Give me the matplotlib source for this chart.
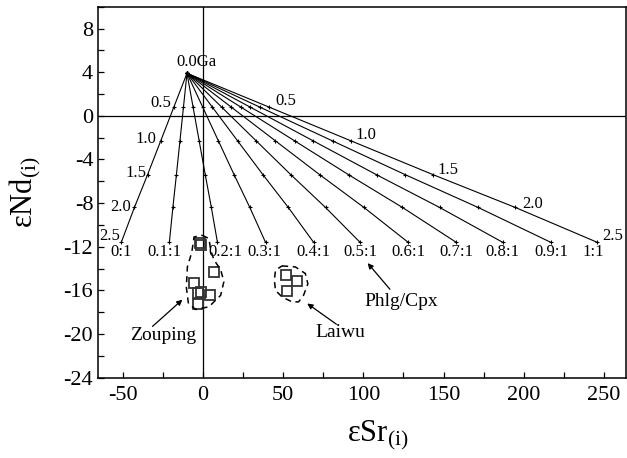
import matplotlib
matplotlib.use("Agg")
import matplotlib.pyplot as plt
from matplotlib.ticker import MultipleLocator

# === CONFIG ===
OUT_FILE = "out.png"
plt.rcParams["font.family"] = ["Liberation Serif", "DejaVu Serif"]
plt.rcParams["mathtext.fontset"] = "custom"
plt.rcParams["mathtext.rm"] = "Liberation Serif"
plt.rcParams["mathtext.it"] = "Liberation Serif:italic"
plt.rcParams["axes.unicode_minus"] = False

# ------------------------------
# Data: Phlg/Cpx mixing lines (eSr vs eNd at 0.0 ... 2.5 Ga)
# ------------------------------
ratios = ["0:1", "0.1:1", "0.2:1", "0.3:1", "0.4:1", "0.5:1",
          "0.6:1", "0.7:1", "0.8:1", "0.9:1", "1:1"]
ages = ["0.0Ga", "0.5", "1.0", "1.5", "2.0", "2.5"]
nd_line = [3.9, 0.8, -2.3, -5.4, -8.4, -11.6]
sr_lines = [
    [-10, -18.2, -26.4, -34.6, -42.8, -51.0],
    [-10, -12.2, -14.4, -16.6, -18.8, -21.0],
    [-10, -6.2, -2.4, 1.4, 5.2, 9.0],
    [-10, -0.2, 9.6, 19.4, 29.2, 39.0],
    [-10, 5.8, 21.6, 37.4, 53.2, 69.0],
    [-10, 11.6, 33.2, 54.8, 76.4, 98.0],
    [-10, 17.6, 45.2, 72.8, 100.4, 128.0],
    [-10, 23.6, 57.2, 90.8, 124.4, 158.0],
    [-10, 29.4, 68.8, 108.2, 147.6, 187.0],
    [-10, 35.4, 80.8, 126.2, 171.6, 217.0],
    [-10, 41.2, 92.4, 143.6, 194.8, 246.0],
]

# samples
zouping_sr = [-1.6, -1.0, 6.8, -5.6, -1.1, 4.3, -3.1, -3.1]
zouping_nd = [-11.7, -11.8, -14.3, -15.3, -16.15, -16.4, -16.2, -17.2]
laiwu_sr = [52.0, 58.6, 52.4]
laiwu_nd = [-14.6, -15.15, -16.1]

# dashed field outlines
zouping_field_sr = [-0.4, 3.7, 4.8, 6.8, 11.0, 13.0, 11.0, 3.7, -4.5, -9.1, -10.4, -9.75, -7.0, -5.6, -0.4]
zouping_field_nd = [-10.95, -11.25, -12.3, -13.2, -14.1, -15.2, -16.45, -17.5, -17.75, -17.2, -15.7, -13.85, -12.5, -11.1, -10.95]
laiwu_field_sr = [49.3, 57.6, 63.8, 65.4, 62.7, 59.6, 55.5, 49.3, 45.2, 44.5, 45.2, 49.3]
laiwu_field_nd = [-13.75, -13.85, -14.45, -15.4, -16.45, -17.05, -17.05, -16.6, -16.0, -15.05, -14.15, -13.75]

# ------------------------------
# Plot
# ------------------------------
fig = plt.figure(figsize=(6.27, 4.58), dpi=100)
ax = fig.add_axes([98 / 627, 80.3 / 458, 527.5 / 627, 371 / 458])

ax.axhline(0, color="black", lw=0.9)
ax.axvline(0, color="black", lw=0.9)

for sr in sr_lines:
    ax.plot(sr, nd_line, color="black", lw=0.8, marker="+", ms=3, mew=0.8)

# ratio labels below line ends
ratio_nudge = {"0:1": 0, "0.1:1": -3, "0.2:1": 5, "0.3:1": -1, "1:1": -2.5}
for sr, lab in zip(sr_lines, ratios):
    ax.text(sr[-1] + ratio_nudge.get(lab, 0), -12.5, lab, fontsize=12,
            ha="center", va="center")

# age labels along outer lines
ax.text(-4.3, 4.9, ages[0], fontsize=12, ha="center", va="center")
left_pos = [(-26.1, 1.2), (-35.4, -2.1), (-41.6, -5.2), (-51.6, -8.4), (-58.4, -11.0)]
right_pos = [(51.6, 1.4), (101.9, -1.8), (152.8, -5.0), (205.6, -8.1), (255.3, -11.0)]
for lab, (x, y) in zip(ages[1:], left_pos):
    ax.text(x, y, lab, fontsize=12, ha="center", va="center")
for lab, (x, y) in zip(ages[1:], right_pos):
    ax.text(x, y, lab, fontsize=12, ha="center", va="center")

# samples and fields
ax.plot(zouping_sr, zouping_nd, ls="none", marker="s", ms=7, mfc="none",
        mec="#333333", mew=1.3)
ax.plot(laiwu_sr, laiwu_nd, ls="none", marker="s", ms=7, mfc="none",
        mec="#333333", mew=1.3)
ax.plot(zouping_field_sr, zouping_field_nd, color="black", lw=1.1, ls=(0, (4, 3)))
ax.plot(laiwu_field_sr, laiwu_field_nd, color="black", lw=1.1, ls=(0, (4, 3)))

arrow = dict(arrowstyle="-|>", color="black", lw=0.9, mutation_scale=8,
             shrinkA=0, shrinkB=0)
ax.annotate("", xy=(-12.9, -16.85), xytext=(-31.5, -19.3), arrowprops=arrow)
ax.text(-24.8, -20.1, "Zouping", fontsize=14, ha="center", va="center")
ax.annotate("", xy=(65.0, -17.2), xytext=(83.2, -19.1), arrowprops=arrow)
ax.text(85.5, -19.9, "Laiwu", fontsize=14, ha="center", va="center")
ax.annotate("", xy=(102.7, -13.5), xytext=(116.6, -15.9), arrowprops=arrow)
ax.text(123.6, -17.0, "Phlg/Cpx", fontsize=14, ha="center", va="center")

# axes
ax.set_xlim(-65.5, 263.5)
ax.set_ylim(-24, 10)
ax.xaxis.set_major_locator(MultipleLocator(50))
ax.xaxis.set_minor_locator(MultipleLocator(25))
ax.yaxis.set_minor_locator(MultipleLocator(2))
ax.set_yticks(range(-24, 9, 4))
ax.tick_params(which="both", direction="in", length=4, width=0.9,
               labelsize=16, top=False, right=False)
ax.tick_params(axis="x", pad=6)
for s in ax.spines.values():
    s.set_linewidth(1.1)

ax.set_xlabel(r"$\mathregular{εSr_{(i)}}$", fontsize=22)
ax.xaxis.set_label_coords(0.53, -0.11)
ax.set_ylabel(r"$\mathregular{εNd_{(i)}}$", fontsize=22)
ax.yaxis.set_label_coords(-0.105, 0.5)

fig.savefig(OUT_FILE, dpi=100)
print("chart saved")
